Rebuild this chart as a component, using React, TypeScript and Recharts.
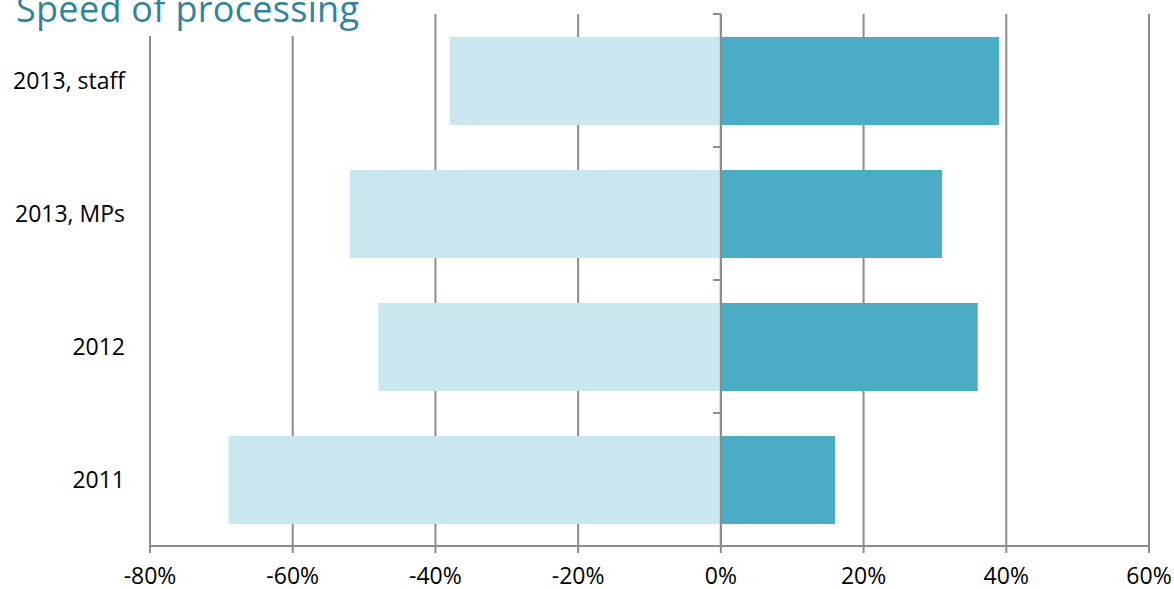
import { BarChart, Bar, XAxis, YAxis, CartesianGrid, ReferenceLine } from 'recharts'

const categories = ['2013, staff', '2013, MPs', '2012', '2011']
const negativeShare = [-38, -52, -48, -69]
const positiveShare = [39, 31, 36, 16]
const xTicks = [-80, -60, -40, -20, 0, 20, 40, 60]

const data = categories.map((name, i) => ({
    name,
    neg: negativeShare[i],
    pos: positiveShare[i],
}))

const font = '"Open Sans", sans-serif'
const grey = '#8c8c8c'

const App = () => {
    return (
        <div style={{ position: 'fixed', left: 0, top: 0, width: 1174, height: 589, background: '#fff', fontFamily: font }}>
            <div
                style={{
                    position: 'absolute',
                    left: 0,
                    top: 0,
                    height: 36,
                    width: 380,
                    background: '#fff',
                    zIndex: 2,
                    overflow: 'hidden',
                }}
            >
                <div style={{ position: 'absolute', left: 16, top: -9, fontSize: 36, lineHeight: '36px', letterSpacing: 0.3, color: '#31849B', whiteSpace: 'nowrap' }}>
                    Speed of processing
                </div>
            </div>
            <BarChart
                width={1174}
                height={589}
                data={data}
                layout="vertical"
                stackOffset="sign"
                margin={{ top: 14, right: 25, bottom: 0, left: 0 }}
            >
                <CartesianGrid horizontal={false} stroke={grey} strokeWidth={2} />
                <XAxis
                    type="number"
                    domain={[-80, 60]}
                    ticks={xTicks}
                    tickFormatter={(v) => `${v}%`}
                    axisLine={{ stroke: grey, strokeWidth: 2 }}
                    tickLine={{ stroke: grey, strokeWidth: 2 }}
                    tickSize={7}
                    tickMargin={15}
                    height={43}
                    tick={{ fill: '#000', fontSize: 23, fontFamily: font }}
                    interval={0}
                />
                <YAxis
                    type="category"
                    dataKey="name"
                    width={150}
                    axisLine={false}
                    tickLine={false}
                    tickSize={0}
                    tickMargin={25}
                    tick={{ fill: '#000', fontSize: 23, fontFamily: font }}
                />
                <Bar dataKey="neg" stackId="a" fill="#CAE6EE" barSize={88} isAnimationActive={false} />
                <Bar dataKey="pos" stackId="a" fill="#4BACC6" barSize={88} isAnimationActive={false} />
                <ReferenceLine x={0} stroke={grey} strokeWidth={2} />
                {categories.map((c) => (
                    <ReferenceLine
                        key={c}
                        segment={[
                            { x: -1.1, y: c },
                            { x: 0, y: c },
                        ]}
                        position="start"
                        stroke={grey}
                        strokeWidth={2}
                    />
                ))}
            </BarChart>
        </div>
    )
}

export default App
